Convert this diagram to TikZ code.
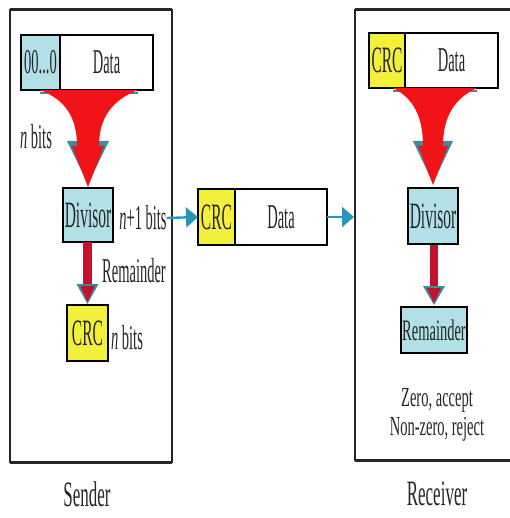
\documentclass[tikz,border=0pt]{standalone}
\usepackage{fontspec}
\setmainfont{Liberation Serif}
\usepackage{graphicx}
\usetikzlibrary{arrows.meta,calc}
\definecolor{cellblue}{RGB}{178,224,230}
\definecolor{cellyellow}{RGB}{242,240,60}
\definecolor{arrred}{RGB}{240,20,24}
\definecolor{arrteal}{RGB}{38,150,185}
\definecolor{shadeteal}{RGB}{60,140,158}
\definecolor{darkred}{RGB}{196,18,44}
\newcommand{\vtxt}[1]{\scalebox{1}[2.4]{#1}}
\newcommand{\vtxtb}[1]{\scalebox{1}[2.05]{#1}}
\newcommand{\hbars}[1]{\draw[line width=2.6pt] (#1.north west) -- (#1.north east) (#1.south west) -- (#1.south east);}
\begin{document}
\begin{tikzpicture}[x=1pt,y=-1pt,
  every node/.style={font=\fontsize{14.5}{16}\selectfont, text=black!85, inner sep=0pt, outer sep=0pt},
  cell/.style={draw=black, line width=1.1pt},
  bluecell/.style={cell, fill=cellblue},
  yellowcell/.style={cell, fill=cellyellow},
  whitecell/.style={cell, fill=white},
  frame/.style={draw=black!85, line width=1.6pt},
  tealarrow/.style={draw=arrteal, line width=2.4pt, -{Triangle[length=12pt,width=20pt]}},
  bigfont/.style={font=\fontsize{17}{19}\selectfont},
  divfont/.style={font=\fontsize{15.5}{17}\selectfont},
]
\useasboundingbox (0,0) rectangle (509,518);

% frames
\node[frame, minimum width=162pt, minimum height=452pt] (sframe) at (91,236) {};
\draw[line width=3pt, black!85] (sframe.north west) -- (sframe.north east) (sframe.south west) -- (sframe.south east);
\node[frame, minimum width=160pt, minimum height=450pt] (rframe) at (435,235) {};
\draw[line width=3pt, black!85] (rframe.north west) -- (rframe.north east) (rframe.south west) -- (rframe.south east);

% sender boxes
\node[bluecell, minimum width=39pt, minimum height=55pt] (szero) at (40.5,62.5) {\vtxt{00...0}};
\node[whitecell, minimum width=93pt, minimum height=55pt] (sdata) at (106.5,62.5) {\vtxt{Data}};
\node[bluecell, divfont, minimum width=50pt, minimum height=54pt] (sdiv) at (88,215) {\vtxt{Divisor}};
\node[yellowcell, divfont, minimum width=41pt, minimum height=56pt] (scrc) at (87.5,333) {\vtxt{CRC}};

% middle boxes
\node[yellowcell, divfont, minimum width=37pt, minimum height=56pt] (mcrc) at (216.5,217) {\vtxt{CRC}};
\node[whitecell, minimum width=92pt, minimum height=56pt] (mdata) at (281,217) {\vtxt{Data}};

% receiver boxes
\node[yellowcell, divfont, minimum width=36pt, minimum height=55pt] (rcrc) at (387,60.5) {\vtxt{CRC}};
\node[whitecell, minimum width=93pt, minimum height=55pt] (rdata) at (451.5,60.5) {\vtxt{Data}};
\node[bluecell, divfont, minimum width=50pt, minimum height=56pt] (rdiv) at (433,216) {\vtxt{Divisor}};
\node[bluecell, minimum width=66pt, minimum height=46pt] (rrem) at (434,330) {\vtxtb{\fontsize{14.5}{16}\selectfont Remainder}};

\foreach \n in {szero,sdata,sdiv,scrc,mcrc,mdata,rcrc,rdata,rdiv,rrem} {\hbars{\n}}

% sender funnel
\begin{scope}[shift={(sdiv.north)}]
  \fill[shadeteal] (-48,-96) -- (50,-96) -- (50,-94) -- (-48,-94) -- cycle;
  \fill[shadeteal] (-21,-47) -- (0,-4) -- (21,-47) -- cycle;
  \fill[arrred] (-48,-98) .. controls (-22,-88) and (-11,-70) .. (-11,-42)
     -- (-16,-42) -- (0,-1) -- (16,-42) -- (11,-42)
     .. controls (11,-70) and (24,-88) .. (50,-98) -- cycle;
\end{scope}

% receiver funnel
\begin{scope}[shift={(rdiv.north)}]
  \fill[shadeteal] (-40,-98) -- (44,-98) -- (44,-96) -- (-40,-96) -- cycle;
  \fill[shadeteal] (-20,-47) -- (0,-5) -- (20,-47) -- cycle;
  \fill[arrred] (-40,-100) .. controls (-20,-90) and (-10,-72) .. (-10,-42)
     -- (-15,-42) -- (0,-3) -- (15,-42) -- (10,-42)
     .. controls (10,-72) and (22,-90) .. (44,-100) -- cycle;
\end{scope}

% sender small arrow
\begin{scope}[shift={(scrc.north)}]
  \fill[darkred] (-4.5,-63) rectangle (4.5,-17);
  \fill[shadeteal] (-11,-21) -- (0,-1) -- (11,-21) -- cycle;
  \fill[darkred] (-7,-19) -- (0,-3) -- (7,-19) -- cycle;
\end{scope}

% receiver small arrow
\begin{scope}[shift={(rrem.north)}]
  \fill[darkred] (-4,-62) rectangle (4,-17);
  \fill[shadeteal] (-11,-21) -- (0,-2) -- (11,-21) -- cycle;
  \fill[darkred] (-7,-19) -- (0,-4) -- (7,-19) -- cycle;
\end{scope}

% labels
\node (nbitsa) at (36,137) {\vtxt{\textit{n} bits}};
\node (nplus) at (143,218) {\vtxt{\textit{n}+1 bits}};
\node (remlbl) at (134,271) {\vtxt{Remainder}};
\node (nbitsb) at (127,338) {\vtxt{\textit{n} bits}};
\node (zero) at (437,400) {\scalebox{1}[1.9]{Zero, accept}};
\node (nonzero) at (437,429) {\scalebox{1}[1.9]{Non-zero, reject}};
\node[bigfont] (sender) at (87,494) {\scalebox{1}[2.1]{Sender}};
\node[bigfont] (receiver) at (437,494) {\scalebox{1}[2.1]{Receiver}};

% teal arrows
\draw[tealarrow] (nplus.east) -- (mcrc.west);
\coordinate (rin) at (rframe.west |- mdata.east);
\draw[tealarrow] (mdata.east) -- ([xshift=-1pt]rin);
\end{tikzpicture}
\end{document}
